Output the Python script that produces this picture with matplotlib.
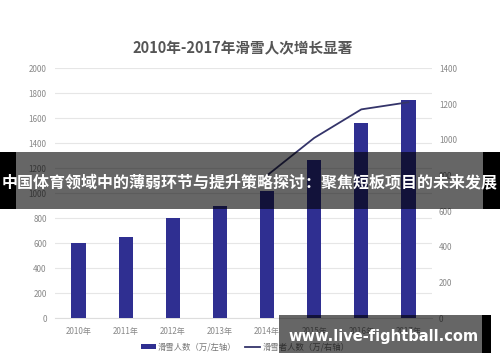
import matplotlib
matplotlib.use("Agg")
import matplotlib.pyplot as plt
import numpy as np
from matplotlib.patches import Rectangle

plt.rcParams['font.family'] = ['Noto Sans CJK SC', 'DejaVu Sans']

years = ["2010年", "2011年", "2012年", "2013年", "2014年", "2015年", "2016年", "2017年"]
visits = [600, 650, 800, 900, 1020, 1270, 1560, 1750]
skiers = [np.nan, np.nan, np.nan, np.nan, 800, 1010, 1170, 1210]
left_ticks = [0, 200, 400, 600, 800, 1000, 1200, 1400, 1600, 1800, 2000]
right_ticks = [0, 200, 400, 600, 800, 1000, 1200, 1400]
title = "2010年-2017年滑雪人次增长显著"
bar_label = "滑雪人数（万/左轴）"
line_label = "滑雪者人数（万/右轴）"
banner = "中国体育领域中的薄弱环节与提升策略探讨：聚焦短板项目的未来发展"
watermark = "www.live-fightball.com"

W, H = 500, 362
fig = plt.figure(figsize=(W / 100, H / 100), dpi=100)
ax = fig.add_axes([55 / W, 1 - 318.3 / H, (432 - 55) / W, (318.3 - 68.3) / H])
ax2 = ax.twinx()

x = np.arange(len(years))
bar_color = '#2f2f91'
line_color = '#34346a'
tick_color = '#888888'

bars = ax.bar(x, visits, width=0.3, color=bar_color, label=bar_label, zorder=3)
ax.set_xlim(-0.5, len(years) - 0.5)
ax.set_ylim(0, 2000)
ax.set_yticks(left_ticks)
ax.set_xticks(x)
ax.set_xticklabels(years)
ax.grid(axis='y', color='#e6e6e6', linewidth=0.8, zorder=0)
ax.set_axisbelow(True)
for s in ax.spines.values():
    s.set_visible(False)
ax.spines['bottom'].set_visible(True)
ax.spines['bottom'].set_color('#dddddd')
ax.tick_params(axis='both', length=0, labelsize=5.8, colors=tick_color, pad=6)

ln, = ax2.plot(x, skiers, color=line_color, linewidth=1.3, label=line_label, zorder=4)
ax2.set_ylim(0, 1400)
ax2.set_yticks(right_ticks)
for s in ax2.spines.values():
    s.set_visible(False)
ax2.tick_params(axis='y', length=0, labelsize=5.8, colors=tick_color, pad=5)

fig.text(243 / W, 1 - 48 / H, title, ha='center', va='center', fontsize=10.5,
         fontweight='bold', color='#555555')

fig.legend([bars, ln], [bar_label, line_label], loc='center', ncol=2,
           bbox_to_anchor=(245 / W, 1 - 347 / H), frameon=False, fontsize=6,
           labelcolor='#777777', handlelength=1.8, handleheight=0.6, columnspacing=1.0,
           handletextpad=0.3)

# banner overlay
fig.patches.append(Rectangle((0, 1 - 209 / H), 1, 57 / H, transform=fig.transFigure,
                             facecolor='black', alpha=0.6, zorder=10))
fig.patches.append(Rectangle((0, 1 - 209 / H), 16 / W, 57 / H, transform=fig.transFigure,
                             facecolor='black', zorder=10))
fig.patches.append(Rectangle((483 / W, 1 - 209 / H), 17 / W, 57 / H, transform=fig.transFigure,
                             facecolor='black', zorder=10))
fig.text(250 / W, 1 - 182 / H, banner, ha='center', va='center', fontsize=11.5,
         fontweight='bold', color='white', zorder=11)

# watermark overlay
fig.patches.append(Rectangle((279 / W, 1 - 353 / H), (482 - 279) / W, 38 / H,
                             transform=fig.transFigure, facecolor='black', alpha=0.6, zorder=10))
fig.patches.append(Rectangle((482 / W, 1 - 353 / H), 9 / W, 38 / H,
                             transform=fig.transFigure, facecolor='black', zorder=10))
fig.text(384 / W, 1 - 336 / H, watermark, ha='center', va='center', fontsize=10.5,
         fontweight='bold', color='white', zorder=11, family=['DejaVu Sans'])

fig.savefig('out.png', dpi=100)
